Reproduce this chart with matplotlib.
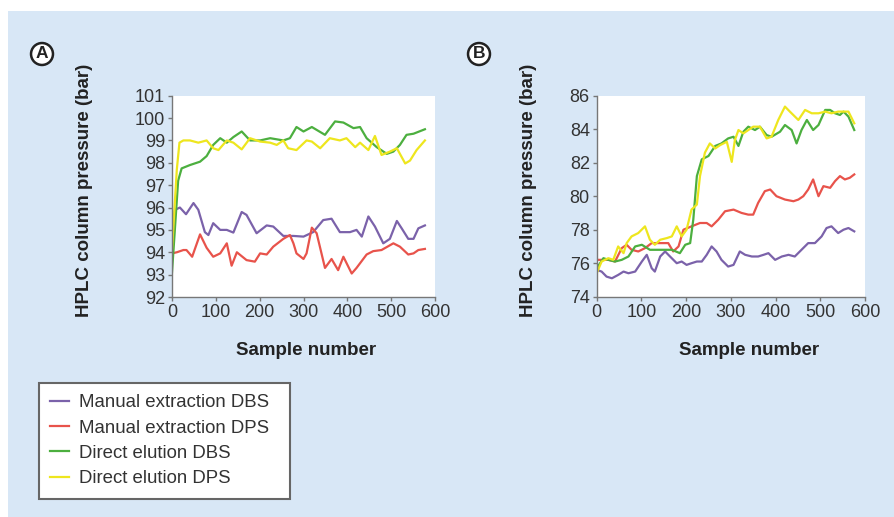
import matplotlib
matplotlib.use('Agg')
import matplotlib.pyplot as plt
from matplotlib.patches import Rectangle

plt.rcParams['font.family'] = ['Liberation Sans', 'DejaVu Sans']

series_names = ['Manual extraction DBS', 'Manual extraction DPS',
                'Direct elution DBS', 'Direct elution DPS']
series_colors = ['#7b62aa', '#e8534b', '#4caf3f', '#eee61e']

# panel A - manual extraction DBS
a_dbs_man_x = [0, 7, 18, 32, 49, 60, 75, 83, 94, 110, 125, 140, 159, 170, 193, 216, 231, 254, 277,
               300, 322, 345, 364, 383, 406, 421, 433, 448, 463, 482, 497, 513, 524, 539, 551, 562, 577]
a_dbs_man_y = [94.5, 95.9, 96.0, 95.7, 96.2, 95.9, 94.9, 94.77, 95.3, 95.0, 95.0, 94.88, 95.8, 95.67,
               94.85, 95.2, 95.15, 94.73, 94.73, 94.7, 94.9, 95.44, 95.5, 94.9, 94.9, 95.0, 94.7,
               95.6, 95.15, 94.4, 94.6, 95.4, 95.07, 94.6, 94.6, 95.07, 95.2]
# panel A - manual extraction DPS
a_dps_man_x = [0, 11, 26, 33, 46, 64, 79, 94, 110, 125, 136, 148, 170, 189, 201, 216, 231, 254, 269,
               277, 284, 300, 307, 319, 330, 349, 364, 379, 391, 410, 421, 444, 459, 478, 505, 520,
               539, 551, 562, 577]
a_dps_man_y = [93.95, 94.0, 94.1, 94.1, 93.8, 94.8, 94.2, 93.8, 93.95, 94.4, 93.4, 94.0, 93.65,
               93.58, 93.95, 93.9, 94.25, 94.6, 94.77, 94.4, 93.95, 93.7, 93.95, 95.1, 94.85, 93.3,
               93.7, 93.2, 93.8, 93.05, 93.3, 93.9, 94.05, 94.1, 94.4, 94.25, 93.9, 93.95, 94.1, 94.15]
# panel A - direct elution DBS
a_dbs_dir_x = [0, 14, 22, 41, 64, 79, 94, 110, 125, 140, 159, 178, 201, 224, 254, 269, 284, 300,
               319, 349, 372, 391, 414, 429, 444, 467, 490, 505, 520, 535, 551, 577]
a_dbs_dir_y = [93.1, 97.2, 97.75, 97.9, 98.05, 98.3, 98.8, 99.1, 98.9, 99.15, 99.4, 99.0, 99.0,
               99.1, 99.0, 99.1, 99.6, 99.4, 99.6, 99.25, 99.85, 99.8, 99.55, 99.6, 99.1, 98.7,
               98.4, 98.5, 98.8, 99.25, 99.3, 99.5]
# panel A - direct elution DPS
a_dps_dir_x = [0, 11, 17, 26, 41, 60, 79, 94, 106, 125, 140, 159, 178, 201, 224, 239, 254, 265,
               284, 307, 319, 338, 360, 383, 398, 418, 429, 448, 463, 478, 497, 513, 532, 543,
               558, 577]
a_dps_dir_y = [94.1, 97.7, 98.9, 99.0, 99.0, 98.9, 99.0, 98.65, 98.57, 99.0, 98.9, 98.6, 99.1,
               98.95, 98.9, 98.8, 99.0, 98.65, 98.57, 99.0, 98.95, 98.65, 99.1, 99.0, 99.1, 98.7,
               98.9, 98.57, 99.2, 98.35, 98.5, 98.65, 97.97, 98.1, 98.57, 99.0]

# panel B - manual extraction DBS
b_dbs_man_x = [0, 11, 22, 34, 48, 60, 71, 86, 101, 112, 123, 130, 142, 153, 164, 179, 190, 201,
               212, 224, 235, 246, 257, 268, 279, 294, 306, 320, 332, 347, 361, 373, 384, 399,
               414, 429, 443, 458, 473, 488, 503, 514, 525, 540, 552, 563, 576]
b_dbs_man_y = [75.6, 75.5, 75.2, 75.1, 75.3, 75.5, 75.4, 75.5, 76.1, 76.5, 75.7, 75.5, 76.4, 76.7,
               76.4, 76.0, 76.1, 75.9, 76.0, 76.1, 76.1, 76.5, 77.0, 76.7, 76.2, 75.8, 75.9, 76.7,
               76.5, 76.4, 76.4, 76.5, 76.6, 76.2, 76.4, 76.5, 76.4, 76.8, 77.2, 77.2, 77.6, 78.1,
               78.2, 77.8, 78.0, 78.1, 77.9]
# panel B - manual extraction DPS
b_dps_man_x = [0, 15, 26, 41, 56, 67, 78, 93, 108, 123, 138, 160, 171, 183, 194, 212, 231, 246,
               257, 272, 287, 306, 324, 339, 350, 361, 376, 388, 402, 421, 440, 451, 462, 473,
               484, 496, 507, 522, 533, 544, 555, 566, 576]
b_dps_man_y = [76.2, 76.2, 76.2, 76.1, 76.9, 77.1, 76.8, 76.7, 76.9, 77.2, 77.2, 77.2, 76.7, 77.0,
               78.0, 78.2, 78.4, 78.4, 78.2, 78.6, 79.1, 79.2, 79.0, 78.9, 78.9, 79.6, 80.3, 80.4,
               80.0, 79.8, 79.7, 79.8, 80.0, 80.4, 81.0, 80.0, 80.6, 80.5, 80.9, 81.2, 81.0, 81.1,
               81.3]
# panel B - direct elution DBS
b_dbs_dir_x = [0, 15, 26, 41, 56, 71, 86, 101, 119, 134, 153, 168, 186, 198, 209, 216, 224, 235,
               250, 265, 279, 294, 306, 317, 328, 339, 354, 365, 380, 391, 410, 421, 436, 447,
               458, 470, 484, 496, 511, 522, 533, 544, 552, 563, 576]
b_dbs_dir_y = [75.7, 76.3, 76.2, 76.1, 76.2, 76.4, 77.0, 77.1, 76.8, 76.8, 76.8, 76.8, 76.6, 77.1,
               77.2, 78.6, 81.2, 82.2, 82.4, 83.0, 83.15, 83.45, 83.55, 83.0, 83.85, 84.15, 83.95,
               84.15, 83.65, 83.55, 83.85, 84.25, 83.95, 83.15, 83.95, 84.55, 83.95, 84.25, 85.15,
               85.15, 84.95, 84.85, 85.05, 84.75, 83.95]
# panel B - direct elution DPS
b_dps_dir_x = [0, 11, 26, 37, 48, 60, 67, 78, 93, 108, 119, 130, 142, 157, 168, 179, 190, 201,
               212, 224, 231, 242, 253, 265, 276, 291, 302, 309, 317, 328, 339, 350, 365, 380,
               391, 406, 421, 432, 451, 466, 481, 496, 511, 525, 540, 563, 576]
b_dps_dir_y = [75.4, 76.1, 76.3, 76.2, 77.0, 76.6, 77.2, 77.6, 77.8, 78.2, 77.4, 77.1, 77.4, 77.5,
               77.6, 78.2, 77.6, 78.0, 79.2, 79.5, 81.2, 82.6, 83.15, 82.85, 83.05, 83.25, 82.05,
               83.35, 83.95, 83.75, 83.95, 84.15, 84.15, 83.45, 83.55, 84.55, 85.35, 85.05, 84.55,
               85.15, 84.95, 84.95, 85.05, 84.95, 85.05, 85.05, 84.35]

x_ticks = [0, 100, 200, 300, 400, 500, 600]
a_yticks = list(range(92, 102))
b_yticks = list(range(74, 87, 2))

W, H = 895, 517
fig = plt.figure(figsize=(W / 100, H / 100), dpi=100, facecolor='white')
fig.patches.append(Rectangle((8 / W, 0), 1, 1 - 11 / H, transform=fig.transFigure,
                             facecolor='#d8e7f6', edgecolor='none', zorder=-10))


def setup(ax, yticks, label_x, xlabel_x):
    ax.set_facecolor('white')
    ax.set_xlim(0, 600)
    ax.set_ylim(yticks[0], yticks[-1])
    ax.set_xticks(x_ticks)
    ax.set_yticks(yticks)
    for s in ['top', 'right']:
        ax.spines[s].set_visible(False)
    for s in ['left', 'bottom']:
        ax.spines[s].set_color('#777777')
        ax.spines[s].set_linewidth(1.0)
    ax.tick_params(direction='out', length=3, width=1, color='#777777', pad=2,
                   labelsize=13, labelcolor='#333333')
    ax.set_xlabel('Sample number', fontsize=13.5, fontweight='bold', color='#222222')
    ax.set_ylabel('HPLC column pressure (bar)', fontsize=13.5, fontweight='bold', color='#222222')
    ax.xaxis.set_label_coords(xlabel_x, -0.224)
    ax.yaxis.set_label_coords(label_x, 0.53)


axA = fig.add_axes([172 / W, 1 - 297 / H, 263 / W, 201.3 / H])
axB = fig.add_axes([596.7 / W, 1 - 296.7 / H, 268.3 / W, 201 / H])

a_data = [(a_dbs_man_x, a_dbs_man_y), (a_dps_man_x, a_dps_man_y),
          (a_dbs_dir_x, a_dbs_dir_y), (a_dps_dir_x, a_dps_dir_y)]
b_data = [(b_dbs_man_x, b_dbs_man_y), (b_dps_man_x, b_dps_man_y),
          (b_dbs_dir_x, b_dbs_dir_y), (b_dps_dir_x, b_dps_dir_y)]

for (x, y), c, n in zip(a_data, series_colors, series_names):
    axA.plot(x, y, color=c, lw=1.6, label=n, solid_joinstyle='round')
for (x, y), c in zip(b_data, series_colors):
    axB.plot(x, y, color=c, lw=1.6, solid_joinstyle='round')

setup(axA, a_yticks, -0.30, 0.51)
setup(axB, b_yticks, -0.222, 0.568)

# circled panel letters
for (px, py), letter in [((42, 54), 'A'), ((479, 54), 'B')]:
    fig.text(px / W, 1 - py / H, letter, ha='center', va='center', fontsize=12.5,
             fontweight='bold', color='#222222',
             bbox=dict(boxstyle='circle,pad=0.2', facecolor='white', edgecolor='#222222', lw=1.8))

handles, labels = axA.get_legend_handles_labels()
leg = fig.legend(handles, labels, loc='upper left',
                 bbox_to_anchor=(39 / W, 19 / H, 251 / W, 115 / H), mode='expand',
                 fontsize=13.4, frameon=True, fancybox=False, framealpha=1, handlelength=1.0,
                 handletextpad=0.55, labelspacing=0.45, borderpad=0.6, borderaxespad=0)
leg.get_frame().set_edgecolor('#666666')
leg.get_frame().set_linewidth(1.5)
for t in leg.get_texts():
    t.set_color('#333333')

fig.savefig('out.png', dpi=100, facecolor=fig.get_facecolor())
